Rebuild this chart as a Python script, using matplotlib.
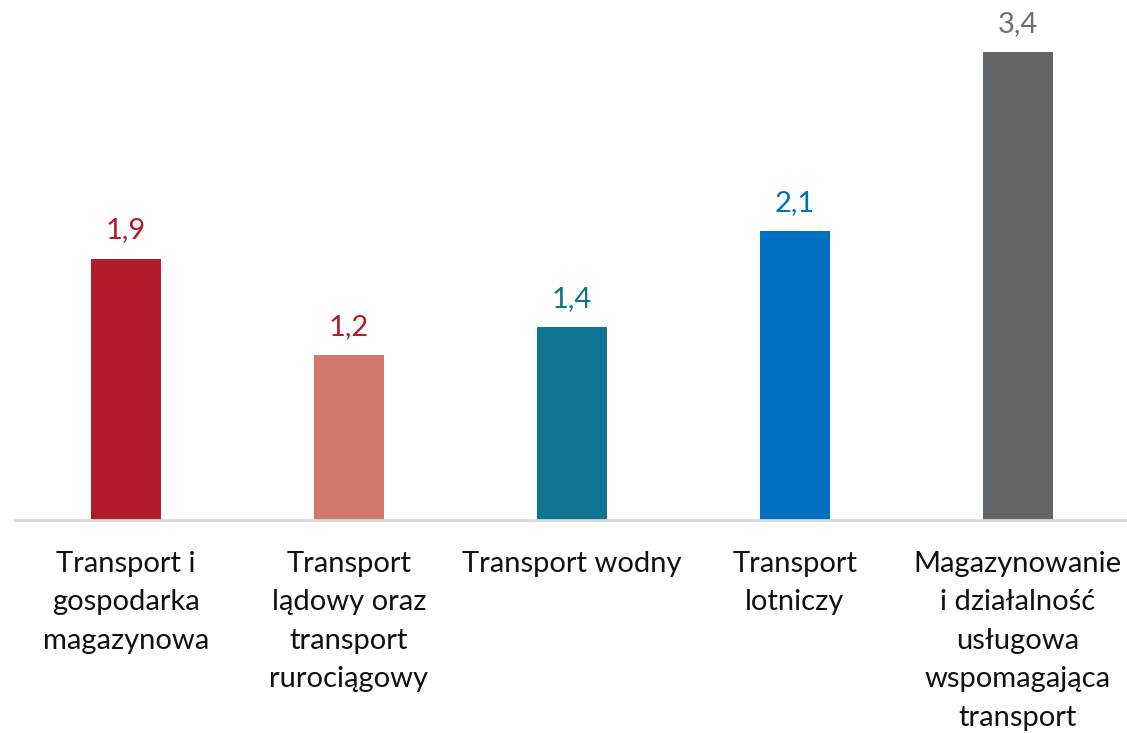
import matplotlib.pyplot as plt

categories = ["Transport i\ngospodarka\nmagazynowa",
              "Transport\nlądowy oraz\ntransport\nrurociągowy",
              "Transport wodny",
              "Transport\nlotniczy",
              "Magazynowanie\ni działalność\nusługowa\nwspomagająca\ntransport"]
values = [1.9, 1.2, 1.4, 2.1, 3.4]
labels = ["1,9", "1,2", "1,4", "2,1", "3,4"]
bar_colors = ["#B31B2A", "#D3786C", "#0E7491", "#0070C0", "#636668"]
text_colors = ["#B31B2A", "#B31B2A", "#0E7491", "#0070C0", "#6B6E70"]

plt.rcParams['font.family'] = ['Lato', 'DejaVu Sans']

fig = plt.figure(figsize=(11.27, 7.33), dpi=100)
ax = fig.add_axes([0.0129, 0.2906, 0.9871, 0.7094])

x = range(len(values))
ax.bar(x, values, width=0.314, color=bar_colors)
for i, v in enumerate(values):
    ax.annotate(labels[i], xy=(i, v), xytext=(0, 11), textcoords='offset points',
                ha='center', va='bottom', fontsize=21, color=text_colors[i])

ax.set_xlim(-0.5, 4.49)
ax.set_ylim(0, 3.78)
ax.set_xticks(list(x))
ax.set_xticklabels(categories, fontsize=21, color='#111111', linespacing=1.6)
ax.tick_params(axis='x', length=0, pad=22)
ax.set_yticks([])
for s in ['top', 'right', 'left']:
    ax.spines[s].set_visible(False)
ax.spines['bottom'].set_color('#D9D9D9')
ax.spines['bottom'].set_linewidth(2)

fig.savefig("out.png", dpi=100)
